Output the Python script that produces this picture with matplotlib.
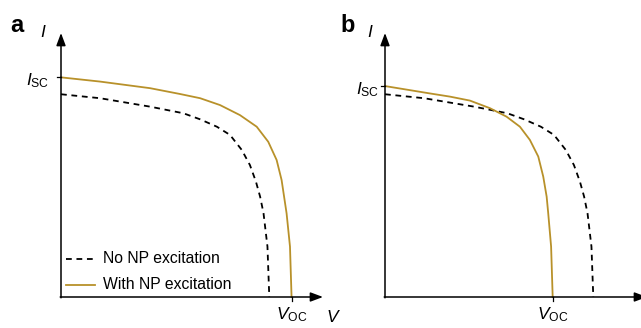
import matplotlib.pyplot as plt

plt.rcParams['font.family'] = ['Liberation Sans', 'DejaVu Sans']
plt.rcParams['mathtext.fontset'] = 'custom'
plt.rcParams['mathtext.rm'] = 'Liberation Sans'
plt.rcParams['mathtext.it'] = 'Liberation Sans:italic'

# Data (axes normalised so arrow tips sit at 1)
v_dark = [0, 0.149, 0.340, 0.467, 0.531, 0.595, 0.645, 0.690, 0.721, 0.744,
          0.760, 0.773, 0.788, 0.795]
i_dark = [0.768, 0.753, 0.721, 0.696, 0.673, 0.645, 0.614, 0.557, 0.500, 0.437,
          0.380, 0.317, 0.191, 0]

v_np_a = [0, 0.149, 0.340, 0.454, 0.531, 0.607, 0.683, 0.747, 0.791, 0.823,
          0.842, 0.861, 0.874, 0.880]
i_np_a = [0.832, 0.816, 0.791, 0.769, 0.753, 0.727, 0.689, 0.645, 0.588, 0.519,
          0.443, 0.317, 0.191, 0]

v_np_b = [0, 0.172, 0.248, 0.324, 0.401, 0.464, 0.515, 0.553, 0.585, 0.604,
          0.617, 0.623, 0.634, 0.640]
i_np_b = [0.799, 0.771, 0.759, 0.744, 0.715, 0.683, 0.645, 0.595, 0.532, 0.456,
          0.380, 0.317, 0.191, 0]

legend_labels = ['No NP excitation', 'With NP excitation']

gold = '#B8912A'
W, H = 641, 328
dash = (0, (3.2, 2.6))

fig = plt.figure(figsize=(W / 100, H / 100), dpi=100)


def make_panel(x0, letter, v_np, i_np, letter_x, i_x, isc_gap):
    ax = fig.add_axes([x0 / W, 31 / H, 262 / W, 264 / H])
    ax.set_xlim(0, 1)
    ax.set_ylim(0, 1)
    ax.axis('off')

    # axes with arrows
    arrow = dict(arrowstyle='-|>,head_length=0.75,head_width=0.28', color='black',
                 lw=1.1, shrinkA=0, shrinkB=0)
    ax.annotate('', xy=(1, 0), xytext=(-0.003, 0), arrowprops=arrow, annotation_clip=False)
    ax.annotate('', xy=(0, 1), xytext=(0, -0.003), arrowprops=arrow, annotation_clip=False)

    ax.plot(v_dark, i_dark, color='black', ls=dash, lw=1.3, clip_on=False)
    ax.plot(v_np, i_np, color=gold, lw=1.3, clip_on=False)

    isc = i_np[0]
    voc = v_np[-1]
    ax.plot([-0.014, 0], [isc, isc], color='black', lw=0.9, clip_on=False)
    ax.plot([voc, voc], [0, -0.014], color='black', lw=0.9, clip_on=False)

    ax.text(-isc_gap, isc - 0.012, r'$I_{\mathrm{SC}}$', ha='right', va='center', fontsize=12.5)
    ax.text(voc, -0.03, r'$V_{\mathrm{OC}}$', ha='center', va='top', fontsize=12.5)
    ax.text(1.01, -0.045, r'$V$', ha='left', va='top', fontsize=12.5)
    ax.text(i_x, 1.005, r'$I$', ha='center', va='center', fontsize=12.5)
    ax.text(letter_x, 1.03, letter, ha='center', va='center', fontsize=17, fontweight='bold')
    return ax


ax_a = make_panel(61, 'a', v_np_a, i_np_a, -0.168, -0.069, 0.045)
make_panel(385, 'b', v_np_b, i_np_b, -0.141, -0.057, 0.022)

# legend drawn by hand in panel a
ax_a.plot([0.02, 0.13], [0.145, 0.145], color='black', ls=dash, lw=1.3)
ax_a.plot([0.02, 0.13], [0.047, 0.047], color=gold, lw=1.3)
ax_a.text(0.16, 0.145, legend_labels[0], va='center', fontsize=11.3)
ax_a.text(0.16, 0.047, legend_labels[1], va='center', fontsize=11.3)

fig.savefig('out.png', dpi=100)
